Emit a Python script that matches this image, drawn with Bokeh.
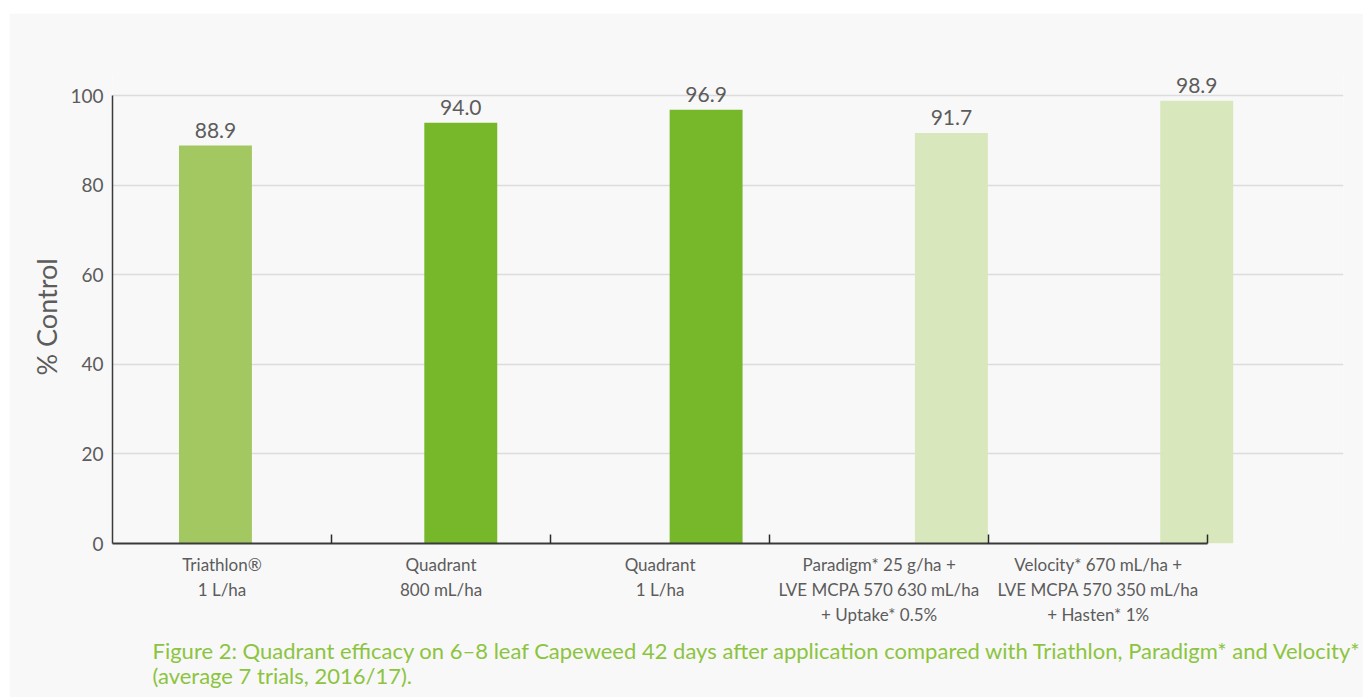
import numpy as np
from bokeh.plotting import figure
from bokeh.models import ColumnDataSource, FixedTicker, Range1d, Title
from bokeh.core.properties import value
from bokeh.embed import file_html
from bokeh.resources import INLINE

# ---- data ----
categories = [
    "Triathlon®\n1 L/ha",
    "Quadrant\n800 mL/ha",
    "Quadrant\n1 L/ha",
    "Paradigm* 25 g/ha +\nLVE MCPA 570 630 mL/ha\n+ Uptake* 0.5%",
    "Velocity* 670 mL/ha +\nLVE MCPA 570 350 mL/ha\n+ Hasten* 1%",
]
control = [88.9, 94.0, 96.9, 91.7, 98.9]
bar_colors = ["#a3c862", "#77b72a", "#77b72a", "#d8e7bc", "#d8e7bc"]
y_ticks = [0, 20, 40, 60, 80, 100]
y_title = "% Control"
caption_lines = [
    "Figure 2: Quadrant efficacy on 6–8 leaf Capeweed 42 days after application compared with Triathlon, Paradigm* and Velocity*",
    "(average 7 trials, 2016/17).",
]

FONT = "Lato"
GRAY = "#5c5c5c"
GREEN = "#8cc43f"
BG = "#f8f8f8"

n = len(categories)
label_pos = np.arange(n) + 0.5
bar_pos = np.arange(n) * 1.12 + 0.47

src = ColumnDataSource(dict(
    x=bar_pos, top=control, color=bar_colors,
    txt=[f"{v:.1f}" for v in control],
))

p = figure(width=1354, height=684, output_backend="svg", toolbar_location=None,
           x_range=Range1d(0, 5.62), y_range=Range1d(0, 105),
           min_border_left=103, min_border_right=20, min_border_top=60,
           min_border_bottom=154)
p.margin = (13, 0, 0, 9)
p.background_fill_color = BG
p.border_fill_color = BG
p.outline_line_color = None

p.vbar(x="x", top="top", width=0.333, bottom=0, color="color", line_color=None, source=src)
p.text(x="x", y="top", text="txt", source=src, text_align="center", text_baseline="bottom",
       y_offset=-8, text_font=value(FONT), text_font_size="21px", text_color=GRAY)

# grid
p.xgrid.visible = False
p.ygrid.grid_line_color = "#dcdcdc"
p.ygrid.grid_line_width = 1.5

# y axis
ya = p.yaxis[0]
ya.ticker = FixedTicker(ticks=y_ticks)
ya.bounds = (0, 100)
ya.major_tick_out = 0
ya.major_tick_in = 0
ya.minor_tick_out = 0
ya.minor_tick_in = 0
ya.axis_line_color = "#3a3a3a"
ya.axis_line_width = 1.5
ya.major_label_text_font = FONT
ya.major_label_text_font_size = "19px"
ya.major_label_text_color = GRAY
ya.major_label_standoff = 9

yt = Title(text=y_title, align="left", offset=168, text_font=FONT, text_font_size="27px",
           text_font_style="normal", text_color=GRAY, standoff=9)
p.add_layout(yt, "left")

# x axis
xa = p.xaxis[0]
xa.ticker = FixedTicker(ticks=list(label_pos), minor_ticks=[1, 2, 3, 4, 5])
xa.major_label_overrides = {float(pos): lab for pos, lab in zip(label_pos, categories)}
xa.bounds = (0, 5)
xa.major_tick_in = 0
xa.major_tick_out = 0
xa.minor_tick_in = 9
xa.minor_tick_out = 0
xa.minor_tick_line_color = "#2a2a2a"
xa.minor_tick_line_width = 1.5
xa.axis_line_color = "#3a3a3a"
xa.axis_line_width = 2
xa.major_label_text_font = FONT
xa.major_label_text_font_size = "17px"
xa.major_label_text_color = GRAY
xa.major_label_standoff = 10

cap = Title(text="\n".join(caption_lines), align="left", offset=40, text_font=FONT,
            text_font_size="22px", text_font_style="normal", text_color=GREEN,
            text_line_height=0.95, standoff=14)
p.add_layout(cap, "below")

open("out.html", "w").write(file_html(p, INLINE))
